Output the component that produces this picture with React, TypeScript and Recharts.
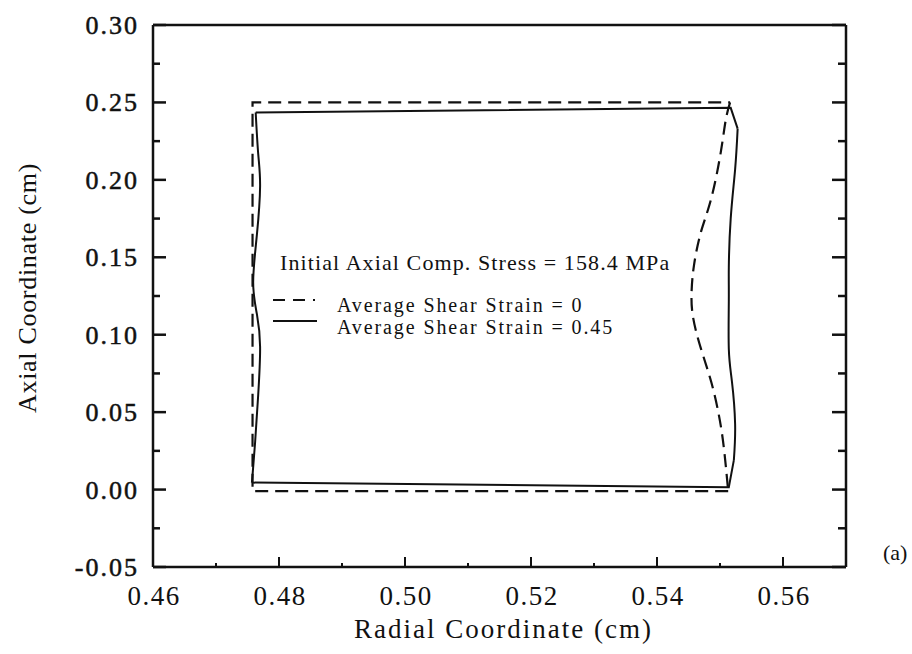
import React from "react";
import { LineChart, Line, XAxis, YAxis, Legend, Label } from "recharts";

const xMajorTicks = [0.46, 0.48, 0.5, 0.52, 0.54, 0.56];
const xMinorTicks = [0.47, 0.49, 0.51, 0.53, 0.55];
const yMajorTicks = [-0.05, 0, 0.05, 0.1, 0.15, 0.2, 0.25, 0.3];
const yMinorTicks = [-0.025, 0.025, 0.075, 0.125, 0.175, 0.225, 0.275];

// average shear strain = 0
// straight part: bottom-right corner -> bottom -> left side -> top -> top-right corner
const dashBoxX = [0.5513, 0.4758, 0.4758, 0.5516];
const dashBoxY = [-0.001, -0.001, 0.25, 0.25];
// bulging right side, top to bottom
const dashRightX = [0.5516, 0.5509, 0.5501, 0.5486, 0.547, 0.5459, 0.5455, 0.5457, 0.547, 0.5486, 0.5498, 0.5506, 0.5513];
const dashRightY = [0.25, 0.2384, 0.2173, 0.1878, 0.1667, 0.1456, 0.1287, 0.1118, 0.0907, 0.0696, 0.0485, 0.0274, -0.001];

// average shear strain = 0.45
// top edge and the kink at the top-right corner
const solidTopX = [0.4763, 0.5517, 0.5528];
const solidTopY = [0.2435, 0.2465, 0.2331];
const solidRightX = [0.5528, 0.5524, 0.5517, 0.5514, 0.5514, 0.5514, 0.5519, 0.5524, 0.5522];
const solidRightY = [0.2331, 0.2068, 0.1751, 0.1435, 0.1224, 0.0907, 0.0696, 0.0422, 0.019];
// kink at the bottom-right corner and bottom edge
const solidBottomX = [0.5522, 0.5514, 0.4757];
const solidBottomY = [0.019, 0.0015, 0.0045];
const solidLeftX = [0.4757, 0.4758, 0.4762, 0.4767, 0.477, 0.4765, 0.4759, 0.4765, 0.477, 0.4767, 0.4763];
const solidLeftY = [0.0045, 0.0093, 0.0301, 0.0612, 0.0923, 0.1131, 0.1338, 0.1649, 0.196, 0.2168, 0.2435];

const pts = (xs: number[], ys: number[]) => xs.map((x, i) => ({ x, y: ys[i] }));

const xTicks = [...xMajorTicks, ...xMinorTicks].sort((a, b) => a - b);
const xTopTicks = [...xMajorTicks, ...xMinorTicks].filter((v) => v > 0.465).sort((a, b) => a - b);
const yTicks = [...yMajorTicks, ...yMinorTicks].sort((a, b) => a - b);

const INK = "#111";
const FONT = '"Liberation Serif", "Times New Roman", serif';

const isMajor = (v: number, list: number[]) => list.some((m) => Math.abs(m - v) < 1e-9);

function BottomTick(props: any) {
  const { x, y, payload } = props;
  const major = isMajor(payload.value, xMajorTicks);
  return (
    <g>
      <line x1={x} x2={x} y1={y} y2={y - (major ? 10 : 4)} stroke={INK} strokeWidth={2} />
      {major && (
        <text x={x + 1} y={y + 38} textAnchor="middle" fontFamily={FONT} fontSize={27} letterSpacing={1.5} fill={INK}>
          {payload.value.toFixed(2)}
        </text>
      )}
    </g>
  );
}

function TopTick(props: any) {
  const { x, y } = props;
  return <line x1={x} x2={x} y1={y} y2={y + 7} stroke={INK} strokeWidth={2} />;
}

function LeftTick(props: any) {
  const { x, y, payload } = props;
  const major = isMajor(payload.value, yMajorTicks);
  return (
    <g>
      <line x1={x} x2={x + (major ? 13 : 7)} y1={y} y2={y} stroke={INK} strokeWidth={2.5} />
      {major && (
        <text
          x={x - 14}
          y={y + 9}
          textAnchor="end"
          fontFamily={FONT}
          fontSize={26}
          letterSpacing={2}
          fill={INK}
          stroke={INK}
          strokeWidth={0.5}
        >
          {payload.value.toFixed(2)}
        </text>
      )}
    </g>
  );
}

function RightTick(props: any) {
  const { x, y, payload } = props;
  const major = isMajor(payload.value, yMajorTicks);
  return <line x1={x} x2={x - (major ? 14 : 8)} y1={y} y2={y} stroke={INK} strokeWidth={2.5} />;
}

function LegendBox(props: any) {
  const items = (props.payload || []).filter((e: any) => e.type !== "none");
  return (
    <svg width={420} height={100} style={{ overflow: "visible" }}>
      <text x={10} y={20} fontFamily={FONT} fontSize={22} letterSpacing={1.1} fill={INK}>
        Initial Axial Comp. Stress = 158.4 MPa
      </text>
      {items.map((e: any, i: number) => (
        <g key={e.value}>
          <line
            x1={3}
            x2={47}
            y1={50 + i * 21}
            y2={50 + i * 21}
            stroke={INK}
            strokeWidth={2.2}
            strokeDasharray={e.payload && e.payload.strokeDasharray ? "12 8 12 8 2 100" : undefined}
          />
          <text x={67} y={62 + i * 22} fontFamily={FONT} fontSize={20} letterSpacing={1.9} fill={INK}>
            {e.value}
          </text>
        </g>
      ))}
    </svg>
  );
}

const frame = { stroke: INK, strokeWidth: 2.5 };
const DASH = "13 7";

export default function App() {
  return (
    <div style={{ position: "absolute", left: 0, top: 0, background: "#fff" }}>
      <LineChart width={912} height={654} margin={{ top: 24, right: 65, bottom: 0, left: 0 }}>
        <XAxis
          xAxisId="b"
          dataKey="x"
          type="number"
          domain={[0.46, 0.57]}
          ticks={xTicks}
          interval={0}
          height={87}
          tickSize={0}
          tickMargin={0}
          tickLine={false}
          axisLine={frame}
          tick={<BottomTick />}
          allowDataOverflow
        >
          <Label
            content={(p: any) => {
              const vb = p.viewBox || { x: 153, y: 567, width: 693 };
              return (
                <text x={vb.x + vb.width / 2 + 4} y={vb.y + 71} textAnchor="middle" fontFamily={FONT} fontSize={27} letterSpacing={2} fill={INK}>
                  Radial Coordinate (cm)
                </text>
              );
            }}
          />
        </XAxis>
        <XAxis
          xAxisId="t"
          orientation="top"
          type="number"
          domain={[0.46, 0.57]}
          ticks={xTopTicks}
          interval={0}
          height={1}
          tickSize={0}
          tickMargin={0}
          tickLine={false}
          axisLine={frame}
          tick={<TopTick />}
          allowDataOverflow
        />
        <YAxis
          yAxisId="l"
          type="number"
          domain={[-0.05, 0.3]}
          ticks={yTicks}
          interval={0}
          width={153}
          tickSize={0}
          tickMargin={0}
          tickLine={false}
          axisLine={frame}
          tick={<LeftTick />}
          allowDataOverflow
        >
          <Label
            content={(p: any) => {
              const vb = p.viewBox || { y: 25, height: 542 };
              return (
                <text
                  transform={`translate(36, ${vb.y + vb.height / 2 - 8}) rotate(-90)`}
                  textAnchor="middle"
                  fontFamily={FONT}
                  fontSize={26}
                  letterSpacing={0.7}
                  fill={INK}
                >
                  Axial Coordinate (cm)
                </text>
              );
            }}
          />
        </YAxis>
        <YAxis
          yAxisId="r"
          orientation="right"
          type="number"
          domain={[-0.05, 0.3]}
          ticks={yTicks}
          interval={0}
          width={1}
          tickSize={0}
          tickMargin={0}
          tickLine={false}
          axisLine={frame}
          tick={<RightTick />}
          allowDataOverflow
        >
          <Label
            content={(p: any) => {
              const vb = p.viewBox || { x: 846, y: 25, height: 542 };
              return (
                <text x={vb.x + 37} y={vb.y + vb.height - 7} fontFamily={FONT} fontSize={22} fill={INK}>
                  (a)
                </text>
              );
            }}
          />
        </YAxis>
        <Legend
          layout="vertical"
          align="center"
          verticalAlign="middle"
          wrapperStyle={{ left: 270, top: 250, width: 420, height: 100 }}
          content={<LegendBox />}
        />
        <Line
          xAxisId="b"
          yAxisId="l"
          data={pts(dashBoxX, dashBoxY)}
          dataKey="y"
          name="Average Shear Strain = 0"
          type="linear"
          stroke={INK}
          strokeWidth={2.2}
          strokeDasharray={DASH}
          dot={false}
          activeDot={false}
          isAnimationActive={false}
        />
        <Line
          xAxisId="b"
          yAxisId="l"
          data={pts(solidTopX, solidTopY)}
          dataKey="y"
          name="Average Shear Strain = 0.45"
          type="linear"
          stroke={INK}
          strokeWidth={2}
          dot={false}
          activeDot={false}
          isAnimationActive={false}
        />
        <Line
          xAxisId="b"
          yAxisId="l"
          data={pts(dashRightX, dashRightY)}
          dataKey="y"
          name="strain 0 right"
          legendType="none"
          type="natural"
          stroke={INK}
          strokeWidth={2.2}
          strokeDasharray={DASH}
          dot={false}
          activeDot={false}
          isAnimationActive={false}
        />
        <Line
          xAxisId="b"
          yAxisId="l"
          data={pts(solidRightX, solidRightY)}
          dataKey="y"
          name="strain 0.45 right"
          legendType="none"
          type="natural"
          stroke={INK}
          strokeWidth={2}
          dot={false}
          activeDot={false}
          isAnimationActive={false}
        />
        <Line
          xAxisId="b"
          yAxisId="l"
          data={pts(solidBottomX, solidBottomY)}
          dataKey="y"
          name="strain 0.45 bottom"
          legendType="none"
          type="linear"
          stroke={INK}
          strokeWidth={2}
          dot={false}
          activeDot={false}
          isAnimationActive={false}
        />
        <Line
          xAxisId="b"
          yAxisId="l"
          data={pts(solidLeftX, solidLeftY)}
          dataKey="y"
          name="strain 0.45 left"
          legendType="none"
          type="natural"
          stroke={INK}
          strokeWidth={2}
          dot={false}
          activeDot={false}
          isAnimationActive={false}
        />
      </LineChart>
    </div>
  );
}
